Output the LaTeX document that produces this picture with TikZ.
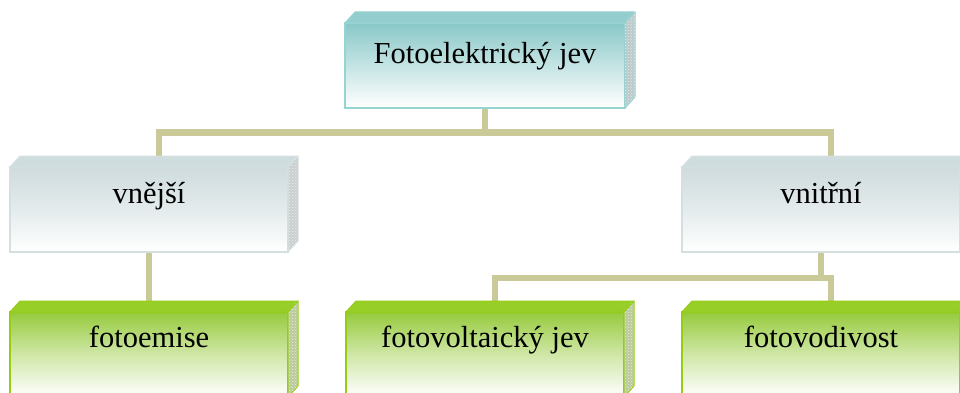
\documentclass[tikz,border=0pt]{standalone}
\usepackage{fontspec}
\setmainfont{Liberation Serif}
\usetikzlibrary{calc,patterns,backgrounds}
\definecolor{tealT}{RGB}{138,200,200}
\definecolor{tealB}{RGB}{150,212,210}
\definecolor{tealTop}{RGB}{148,205,205}
\definecolor{grayT}{RGB}{206,219,221}
\definecolor{grayB}{RGB}{212,224,224}
\definecolor{grayTop}{RGB}{208,221,223}
\definecolor{greenT}{RGB}{150,202,60}
\definecolor{greenB}{RGB}{150,205,20}
\definecolor{greenTop}{RGB}{152,206,40}
\definecolor{connC}{RGB}{202,202,152}
\tikzset{
  box/.style={rectangle, inner sep=0pt, outer sep=0pt, minimum width=278pt,
    font=\fontsize{30.5}{36}\selectfont, line width=1.2pt, text=black},
  tealbox/.style={box, draw=tealB, top color=tealT, bottom color=white, middle color=tealT!50!white,
    minimum width=280pt, text height=40pt, text depth=45pt},
  graybox/.style={box, draw=grayB, top color=grayT, bottom color=white, middle color=grayT!55!white,
    text height=36pt, text depth=49pt},
  greenbox/.style={box, draw=greenB, top color=greenT, bottom color=white, middle color=greenT!45!white,
    text height=35.5pt, text depth=49.5pt},
  connector/.style={draw=connC, line width=6.5pt},
}
\newcommand\threedfaces[3]{%
  \filldraw[fill=#2, draw=#3, line width=1pt, line join=round]
    (#1.north west) -- ++(10,11) -- ($(#1.north east)+(10,11)$) -- (#1.north east) -- cycle;
  \filldraw[fill=#2!50!gray!60, draw=#3, line width=1pt, line join=round,
    postaction={pattern=crosshatch dots, pattern color=white!85!gray}]
    (#1.north east) -- ++(10,11) -- ($(#1.south east)+(10,11)$) -- (#1.south east) -- cycle;
}
\begin{document}
\begin{tikzpicture}[x=1pt,y=1pt]
\useasboundingbox (0,0) rectangle (960,392);
\clip (0,0) rectangle (960,392);
% nodes
\node[tealbox] (top) at (485,326.5) {Fotoelektrický jev};
\node[graybox] (vne) at (149,182.5) {vnější};
\node[graybox] (vni) at (821,182.5) {vnitřní};
\node[greenbox] (fe) at (149,37.5) {fotoemise};
\node[greenbox] (fv) at (485,37.5) {fotovoltaický jev};
\node[greenbox] (fd) at (821,37.5) {fotovodivost};
% 3D faces
\threedfaces{top}{tealTop}{tealB}
\threedfaces{vne}{grayTop}{grayB}
\threedfaces{vni}{grayTop}{grayB}
\threedfaces{fe}{greenTop}{greenB}
\threedfaces{fv}{greenTop}{greenB}
\threedfaces{fd}{greenTop}{greenB}
% connectors
\begin{scope}[on background layer]
\coordinate (j1) at ($(top.south)+(0,-24.5)$);
\coordinate (j2) at ($(vni.south)+(0,-26)$);
\draw[connector] (top.south) -- (j1);
\draw[connector] ($(vne.north)+(10,11)$) |- (j1) -| ($(vni.north)+(10,11)$);
\draw[connector] (vne.south) -- ($(fe.north)+(0,11)$);
\draw[connector] (vni.south) -- (j2);
\draw[connector] ($(fv.north)+(10,11)$) |- (j2) -| ($(fd.north)+(10,11)$);
\end{scope}
\end{tikzpicture}
\end{document}
